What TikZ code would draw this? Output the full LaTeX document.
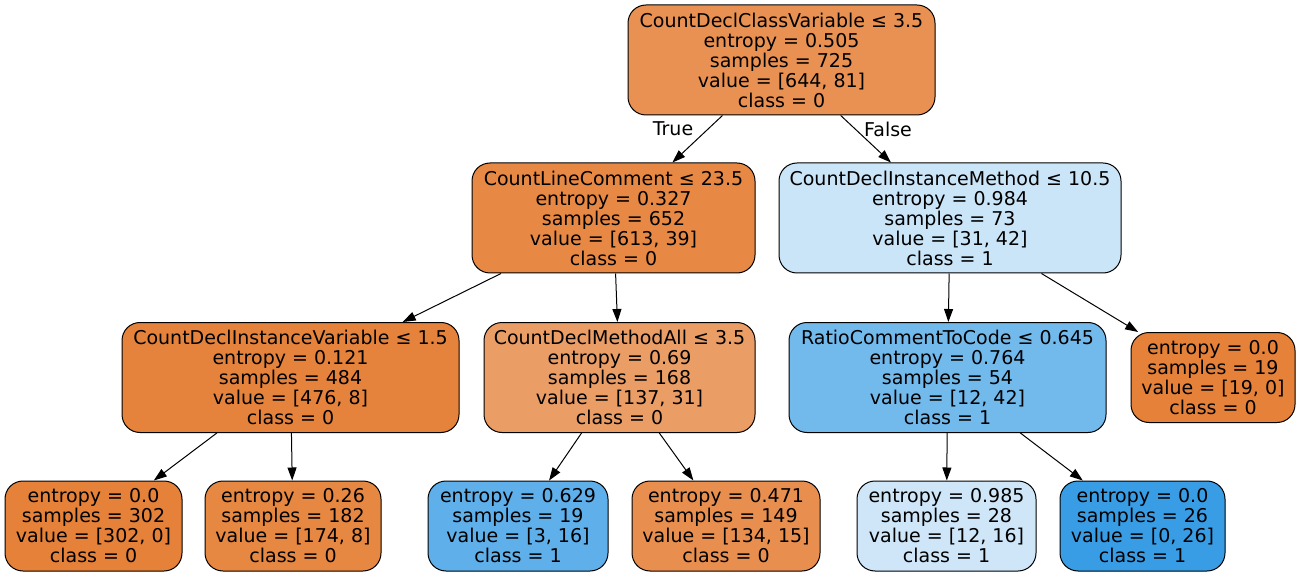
\documentclass[tikz,border=0pt]{standalone}
\usepackage{fontspec}
\setmainfont{DejaVu Sans}
\usetikzlibrary{arrows.meta}
\definecolor{c0}{HTML}{E89152}
\definecolor{c1}{HTML}{E78945}
\definecolor{c2}{HTML}{CBE5F8}
\definecolor{c3}{HTML}{E5833C}
\definecolor{c4}{HTML}{EB9D66}
\definecolor{c5}{HTML}{72B9EC}
\definecolor{c6}{HTML}{E58139}
\definecolor{c7}{HTML}{E68742}
\definecolor{c8}{HTML}{5EAFEA}
\definecolor{c9}{HTML}{E88F4F}
\definecolor{c10}{HTML}{CEE6F8}
\definecolor{c11}{HTML}{399DE5}
\begin{document}
\begin{tikzpicture}[x=1pt,y=-1pt,->,>={Triangle[length=13pt,width=9pt]},line width=1pt,
  main node/.style={rectangle,rounded corners=18pt,draw,align=center,inner xsep=4pt,inner ysep=0pt,
    minimum height=110pt,font=\fontsize{19}{20}\selectfont},
  leaf node/.style={main node,minimum height=90pt},
  tf label/.style={font=\fontsize{19}{20}\selectfont}]
  \useasboundingbox (0,0) rectangle (1301,577);
  \node[main node,fill=c0,minimum width=307pt] (n0) at (781.5,60) {CountDeclClassVariable ≤ 3.5\\entropy = 0.505\\samples = 725\\value = [644, 81]\\class = 0};
  \node[main node,fill=c1,minimum width=283pt] (n1) at (613.5,218) {CountLineComment ≤ 23.5\\entropy = 0.327\\samples = 652\\value = [613, 39]\\class = 0};
  \node[main node,fill=c2,minimum width=342pt] (n2) at (950,218) {CountDeclInstanceMethod ≤ 10.5\\entropy = 0.984\\samples = 73\\value = [31, 42]\\class = 1};
  \node[main node,fill=c3,minimum width=337pt] (n3) at (290.5,377.5) {CountDeclInstanceVariable ≤ 1.5\\entropy = 0.121\\samples = 484\\value = [476, 8]\\class = 0};
  \node[main node,fill=c4,minimum width=271pt] (n4) at (619.5,377.5) {CountDeclMethodAll ≤ 3.5\\entropy = 0.69\\samples = 168\\value = [137, 31]\\class = 0};
  \node[main node,fill=c5,minimum width=317pt] (n5) at (947.5,377.5) {RatioCommentToCode ≤ 0.645\\entropy = 0.764\\samples = 54\\value = [12, 42]\\class = 1};
  \node[leaf node,fill=c6,minimum width=164pt] (n6) at (1213,377.5) {entropy = 0.0\\samples = 19\\value = [19, 0]\\class = 0};
  \node[leaf node,fill=c6,minimum width=177pt] (l1) at (93.5,526) {entropy = 0.0\\samples = 302\\value = [302, 0]\\class = 0};
  \node[leaf node,fill=c7,minimum width=176pt] (l2) at (293,526) {entropy = 0.26\\samples = 182\\value = [174, 8]\\class = 0};
  \node[leaf node,fill=c8,minimum width=180pt] (l3) at (518,526) {entropy = 0.629\\samples = 19\\value = [3, 16]\\class = 1};
  \node[leaf node,fill=c9,minimum width=188pt] (l4) at (726,526) {entropy = 0.471\\samples = 149\\value = [134, 15]\\class = 0};
  \node[leaf node,fill=c10,minimum width=179pt] (l5) at (946.5,526) {entropy = 0.985\\samples = 28\\value = [12, 16]\\class = 1};
  \node[leaf node,fill=c11,minimum width=165pt] (l6) at (1142.5,526) {entropy = 0.0\\samples = 26\\value = [0, 26]\\class = 1};
  \node[tf label] (t) at (673,129) {True};
  \node[tf label] (f) at (888,129) {False};
  \path
    (n0) edge (n1)
    (n0) edge (n2)
    (n1) edge (n3)
    (n1) edge (n4)
    (n2) edge (n5)
    (n2) edge (n6)
    (n3) edge (l1)
    (n3) edge (l2)
    (n4) edge (l3)
    (n4) edge (l4)
    (n5) edge (l5)
    (n5) edge (l6);
\end{tikzpicture}
\end{document}
